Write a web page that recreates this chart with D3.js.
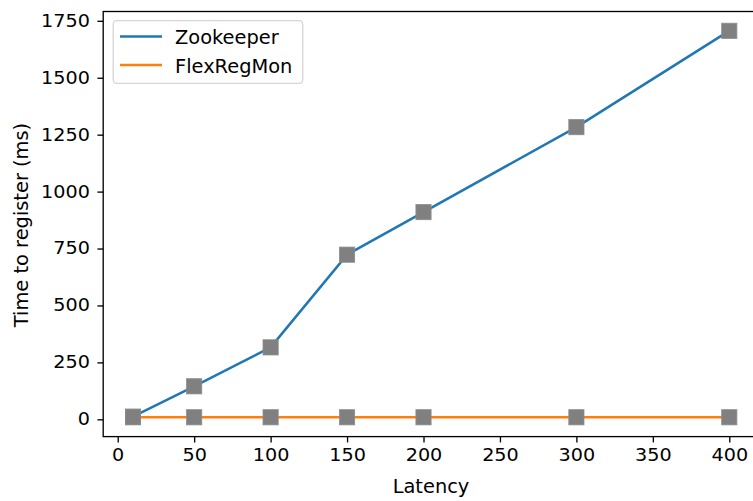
<!DOCTYPE html>
<html>
<head>
<meta charset="utf-8">
<script src="https://cdn.jsdelivr.net/npm/d3@7"></script>
<style>
  html, body { margin: 0; padding: 0; background: #fff; }
  svg { display: block; font-family: "DejaVu Sans", sans-serif; }
</style>
</head>
<body>
<svg id="chart" width="753" height="501"></svg>
<script>
// Latency (x) and registration time in ms for each system
const latency = [10, 50, 100, 150, 200, 300, 400];
const zookeeper = [12, 145, 316, 723, 910, 1283, 1706];
const flexRegMon = [9, 9, 9, 9, 9, 9, 9];
const seriesNames = ["Zookeeper", "FlexRegMon"];
const seriesColors = ["#1f77b4", "#ff7f0e"];
const xTicks = [0, 50, 100, 150, 200, 250, 300, 350, 400];
const yTicks = [0, 250, 500, 750, 1000, 1250, 1500, 1750];

const svg = d3.select("#chart");
const plotLeft = 103.2, plotRight = 759.1, plotTop = 11.5, plotBottom = 436.6;

// 5% padding on each side of the data range, like matplotlib's autoscale
function padded(vals) {
  const [lo, hi] = d3.extent(vals);
  const m = (hi - lo) * 0.05;
  return [lo - m, hi + m];
}

const x = d3.scaleLinear().domain(padded(latency)).range([plotLeft, plotRight]);
const y = d3.scaleLinear().domain(padded(zookeeper.concat(flexRegMon))).range([plotBottom, plotTop]);

const tickFont = 17;
const tickStretch = 1.13;
const labelFont = 19.4;

// Axes
const xAxis = d3.axisBottom(x).tickValues(xTicks).tickSize(5.8).tickPadding(6.5).tickFormat(d3.format("d"));
const yAxis = d3.axisLeft(y).tickValues(yTicks).tickSize(5.8).tickPadding(7.5).tickFormat(d3.format("d"));

const gx = svg.append("g").attr("transform", `translate(0,${plotBottom})`).call(xAxis);
const gy = svg.append("g").attr("transform", `translate(${plotLeft},0)`).call(yAxis);
[gx, gy].forEach(g => {
  g.select(".domain").remove();
  g.selectAll(".tick line").attr("stroke", "#000").attr("stroke-width", 1.33);
  g.selectAll(".tick text")
    .attr("fill", "#000")
    .style("font-size", tickFont + "px")
    .style("font-family", "'DejaVu Sans', sans-serif")
    .attr("transform", function () {
      const tx = +this.getAttribute("x") || 0;
      return `translate(${tx},0) scale(${tickStretch},1) translate(${-tx},0)`;
    });
});

// Lines
const line = d3.line().x((d, i) => x(latency[i])).y(d => y(d));
[zookeeper, flexRegMon].forEach((vals, k) => {
  svg.append("path").datum(vals)
    .attr("d", line)
    .attr("fill", "none")
    .attr("stroke", seriesColors[k])
    .attr("stroke-width", 2.5)
    .attr("stroke-linecap", "square")
    .attr("stroke-linejoin", "round");
});

// Square markers
const ms = 15.2;
[zookeeper, flexRegMon].forEach(vals => {
  svg.append("g").selectAll("rect").data(vals).join("rect")
    .attr("x", (d, i) => x(latency[i]) - ms / 2)
    .attr("y", d => y(d) - ms / 2)
    .attr("width", ms).attr("height", ms)
    .attr("fill", "#808080")
    .attr("stroke", "#8c8c8c")
    .attr("stroke-width", 0.8);
});

// Frame
svg.append("rect")
  .attr("x", plotLeft).attr("y", plotTop)
  .attr("width", plotRight - plotLeft).attr("height", plotBottom - plotTop)
  .attr("fill", "none").attr("stroke", "#000").attr("stroke-width", 1.33);

// Legend
const lg = svg.append("g");
lg.append("rect")
  .attr("x", 113.2).attr("y", 20.7).attr("width", 189.5).attr("height", 62.6)
  .attr("rx", 3.5).attr("ry", 3.5)
  .attr("fill", "#fff").attr("fill-opacity", 0.8)
  .attr("stroke", "#d6d6d6").attr("stroke-width", 1.33);
seriesNames.forEach((name, k) => {
  const yy = 36.4 + k * 28.7;
  lg.append("line")
    .attr("x1", 120).attr("x2", 162).attr("y1", yy).attr("y2", yy)
    .attr("stroke", seriesColors[k]).attr("stroke-width", 2.5);
  lg.append("text")
    .attr("x", 175).attr("y", yy + 7.5)
    .style("font-size", labelFont + "px")
    .attr("fill", "#000")
    .text(name);
});

// Axis titles
svg.append("text")
  .attr("x", 431).attr("y", 493)
  .attr("text-anchor", "middle")
  .style("font-size", labelFont + "px")
  .text("Latency");
svg.append("text")
  .attr("transform", `translate(28,225) rotate(-90)`)
  .attr("text-anchor", "middle")
  .style("font-size", labelFont + "px")
  .text("Time to register (ms)");
</script>
</body>
</html>
